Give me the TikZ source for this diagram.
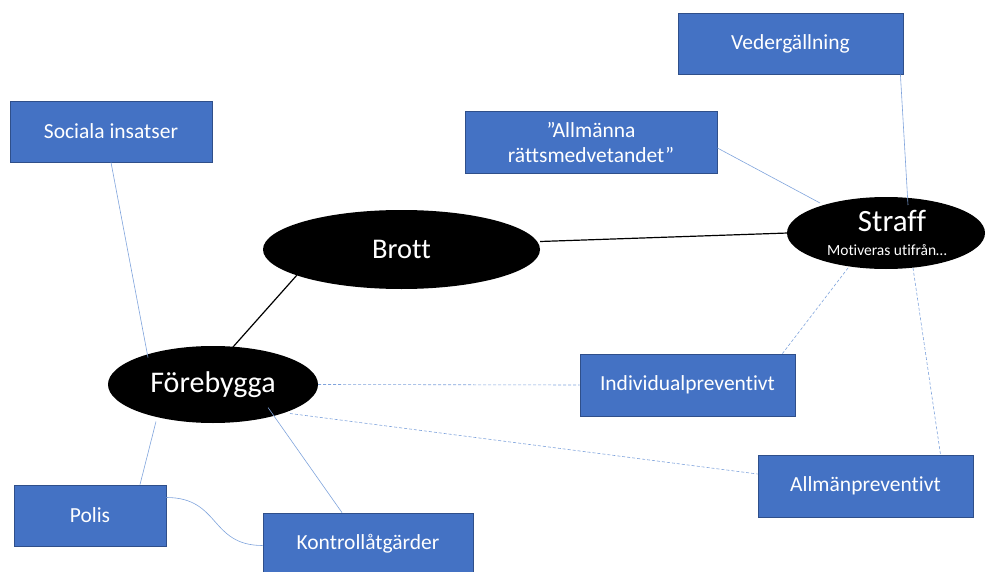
\documentclass[tikz,border=0pt]{standalone}
\usepackage{fontspec}
\setmainfont{Carlito}[Ligatures=NoCommon]
\usetikzlibrary{shapes.geometric}
\definecolor{boxfill}{HTML}{4472C4}
\definecolor{boxline}{HTML}{2F4F8A}
\definecolor{conn}{HTML}{7FA3DC}
\begin{document}
\begin{tikzpicture}[x=1pt,y=-1pt,
  box/.style={draw=boxline,line width=0.8pt,fill=boxfill,text=white,font=\fontsize{21.5}{25}\selectfont,inner sep=0pt,align=center},
  oval/.style={ellipse,fill=black,text=white,inner sep=0pt},
  link/.style={draw=conn,line width=0.6pt},
  dlink/.style={draw=conn,line width=0.6pt,dash pattern=on 3pt off 2pt},
  main/.style={draw=black,line width=1.2pt}]
\useasboundingbox (0,0) rectangle (987,572);
\begin{scope}
\clip (0,0) rectangle (987,572);
% boxes
\node[box,minimum width=225pt,minimum height=61pt] (ved) at (790.5,43.5) {Vedergällning};
\node[box,minimum width=202pt,minimum height=61pt] (soc) at (111,131.5) {Sociala insatser};
\node[box,minimum width=252pt,minimum height=62pt] (allr) at (591,142) {”Allmänna\\rättsmedvetandet”};
\node[box,minimum width=215pt,minimum height=62pt] (ind) at (687.5,385) {Individualpreventivt};
\node[box,minimum width=215pt,minimum height=62pt] (allp) at (865.5,486) {Allmänpreventivt};
\node[box,minimum width=152pt,minimum height=61pt] (pol) at (90,515.5) {Polis};
\node[box,minimum width=210pt,minimum height=61pt] (kon) at (368,543.5) {Kontrollåtgärder};
% ellipses
\node[oval,minimum width=277pt,minimum height=79pt,font=\fontsize{28.5}{32}\selectfont] (brott) at (401.5,249.5) {Brott};
\node[oval,minimum width=210pt,minimum height=77pt,font=\fontsize{30}{34}\selectfont] (fore) at (213,384.5) {Förebygga};
\node[oval,minimum width=198pt,minimum height=72pt] (straff) at (886,233) {};
\node[text=white,font=\fontsize{31}{34}\selectfont,anchor=base] (straffT) at (892,231) {Straff};
\node[text=white,font=\fontsize{15.5}{17}\selectfont,anchor=base] (straffS) at (887,255) {Motiveras utifrån…};
% connectors
\draw[main] ([shift={(0,-8)}]brott.east) -- ([shift={(1,0)}]straff.west);
\draw[main] ([shift={(-104.5,25.5)}]brott.center) -- ([shift={(20,-37.5)}]fore.center);
\draw[link] ([shift={(-3,0)}]ved.south east) -- ([shift={(22,-28)}]straff.center);
\draw[link] ([shift={(0,6)}]allr.east) -- ([shift={(-66,-30)}]straff.center);
\draw[link] (soc.south) -- ([shift={(-65,-27)}]fore.center);
\draw[link] ([shift={(-57,37)}]fore.center) -- ([shift={(50,0)}]pol.north);
\draw[link] ([shift={(55,23)}]fore.center) -- ([shift={(-26,0)}]kon.north);
\draw[link] ([shift={(0,-18)}]pol.east) .. controls ([shift={(54,-18)}]pol.east) and ([shift={(-53,2)}]kon.west) .. ([shift={(0,2)}]kon.west);
\draw[dlink] ([shift={(-38,35)}]straff.center) -- ([shift={(-13,0)}]ind.north east);
\draw[dlink] ([shift={(27,35)}]straff.center) -- ([shift={(75,0)}]allp.north);
\draw[dlink] (fore.east) -- (ind.west);
\draw[dlink] ([shift={(77,29)}]fore.center) -- ([shift={(0,-12)}]allp.west);
\end{scope}
\end{tikzpicture}
\end{document}
